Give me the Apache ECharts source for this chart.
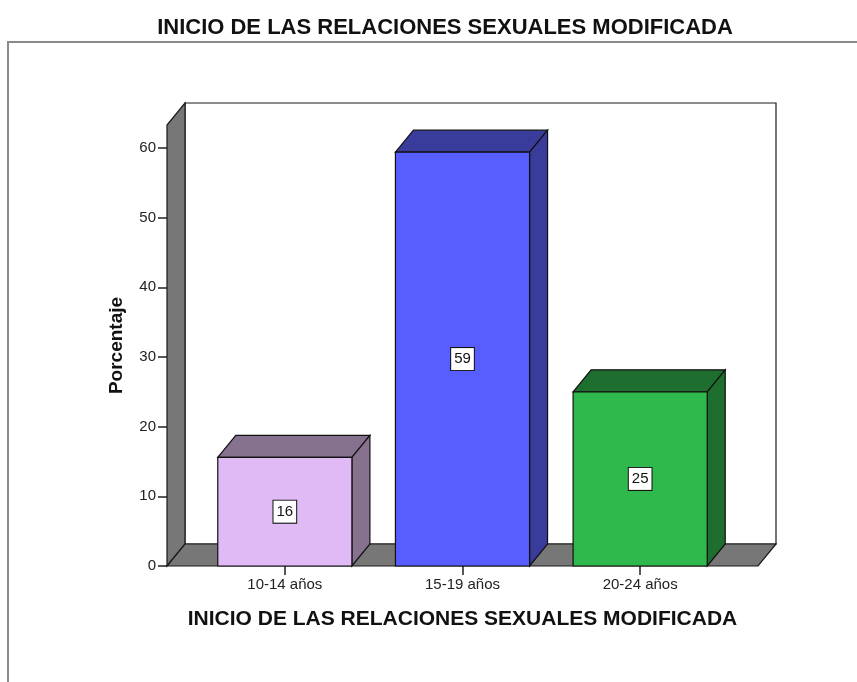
<!DOCTYPE html>
<html>
<head>
<meta charset="utf-8">
<title>Inicio de las relaciones sexuales</title>
<script src="https://cdn.jsdelivr.net/npm/echarts@6/dist/echarts.min.js"></script>
<style>
	html, body { margin: 0; padding: 0; background: #fff; }
	#chart { width: 857px; height: 682px; }
</style>
</head>
<body>
<div id="chart"></div>
<script>
// datos
var categorias = ['10-14 años', '15-19 años', '20-24 años'];
var porcentajes = [15.6, 59.4, 25.0];
var etiquetas = [16, 59, 25];
var ticksY = [0, 10, 20, 30, 40, 50, 60];

// colores frente / lado de cada barra
var colorFrente = ['#dfbaf4', '#585dfd', '#2fb84b'];
var colorLado = ['#86718f', '#393c9a', '#1e6e2f'];

var FONT = '"Liberation Sans", Arial, sans-serif';
var DX = 18, DY = -22, PAD = 29; //profundidad 3D

var myChart = echarts.init(document.getElementById('chart'));

function renderParedes(params, api) {
	var cs = params.coordSys;
	var x0 = cs.x - PAD, x1 = cs.x + cs.width + PAD;
	var yb = cs.y + cs.height, yt = cs.y;
	var st = { stroke: '#1a1a1a', lineWidth: 1.2 };
	return {
		type: 'group',
		children: [
			{ type: 'rect', shape: { x: x0 + DX, y: yt + DY, width: x1 - x0, height: yb - yt },
				style: { fill: '#ffffff', stroke: '#1a1a1a', lineWidth: 1.2 } },
			{ type: 'polygon', shape: { points: [[x0, yb], [x0, yt], [x0 + DX, yt + DY], [x0 + DX, yb + DY]] },
				style: Object.assign({ fill: '#777777' }, st) },
			{ type: 'polygon', shape: { points: [[x0, yb], [x1, yb], [x1 + DX, yb + DY], [x0 + DX, yb + DY]] },
				style: Object.assign({ fill: '#777777' }, st) }
		]
	};
}

function renderBarra(params, api) {
	var i = api.value(0);
	var top = api.coord([i, api.value(1)]);
	var base = api.coord([i, 0]);
	var w = api.size([1, 0])[0] * 0.755;
	var xl = top[0] - w / 2, xr = top[0] + w / 2;
	var yt = top[1], yb = base[1];
	var st = { stroke: '#111', lineWidth: 1.2 };
	return {
		type: 'group',
		children: [
			{ type: 'polygon', shape: { points: [[xl, yt], [xl + DX, yt + DY], [xr + DX, yt + DY], [xr, yt]] },
				style: Object.assign({ fill: colorLado[i] }, st) },
			{ type: 'polygon', shape: { points: [[xr, yt], [xr + DX, yt + DY], [xr + DX, yb + DY], [xr, yb]] },
				style: Object.assign({ fill: colorLado[i] }, st) },
			{ type: 'rect', shape: { x: xl, y: yt, width: w, height: yb - yt },
				style: Object.assign({ fill: colorFrente[i] }, st) },
			{ type: 'text', x: top[0], y: (yt + yb) / 2,
				style: { text: String(etiquetas[i]), fontFamily: FONT, fontSize: 15, fill: '#111',
					align: 'center', verticalAlign: 'middle', backgroundColor: '#fff',
					borderColor: '#111', borderWidth: 1, padding: [4, 3, 3, 3] } }
		]
	};
}

var option = {
	animation: false,
	backgroundColor: '#fff',
	title: {
		text: 'INICIO DE LAS RELACIONES SEXUALES MODIFICADA',
		left: 440, top: 12, textAlign: 'center',
		textStyle: { fontFamily: FONT, fontSize: 22, fontWeight: 'bold', color: '#111' }
	},
	graphic: [
		{ type: 'polyline', shape: { points: [[8, 682], [8, 42], [857, 42]] },
			style: { stroke: '#8a8a8a', lineWidth: 2, fill: null } }
	],
	grid: { left: 196, right: 128, top: 125, bottom: 116 },
	xAxis: {
		type: 'category',
		data: categorias,
		name: 'INICIO DE LAS RELACIONES SEXUALES MODIFICADA',
		nameLocation: 'middle',
		nameGap: 43,
		nameTextStyle: { fontFamily: FONT, fontSize: 21, fontWeight: 'bold', color: '#111' },
		axisLine: { show: false },
		axisTick: { show: true, alignWithLabel: true, length: 9, lineStyle: { color: '#222', width: 1.5 } },
		axisLabel: { fontFamily: FONT, fontSize: 15, color: '#222', margin: 11 }
	},
	yAxis: {
		type: 'value',
		min: 0, max: 63.3, interval: 10,
		offset: PAD,
		name: 'Porcentaje',
		nameLocation: 'middle',
		nameGap: 41,
		nameRotate: 90,
		nameTextStyle: { fontFamily: FONT, fontSize: 19, fontWeight: 'bold', color: '#111' },
		splitLine: { show: false },
		axisLine: { show: false },
		axisTick: { show: true, length: 9, customValues: ticksY, lineStyle: { color: '#222', width: 1.5 } },
		axisLabel: { fontFamily: FONT, fontSize: 15, color: '#222', margin: 11, customValues: ticksY }
	},
	series: [
		{ type: 'custom', renderItem: renderParedes, data: [[0, 0]], z: 1, silent: true },
		{ type: 'custom', renderItem: renderBarra, z: 2,
			data: porcentajes.map(function(v, i) { return [i, v]; }) }
	]
};
myChart.setOption(option);
</script>
</body>
</html>
